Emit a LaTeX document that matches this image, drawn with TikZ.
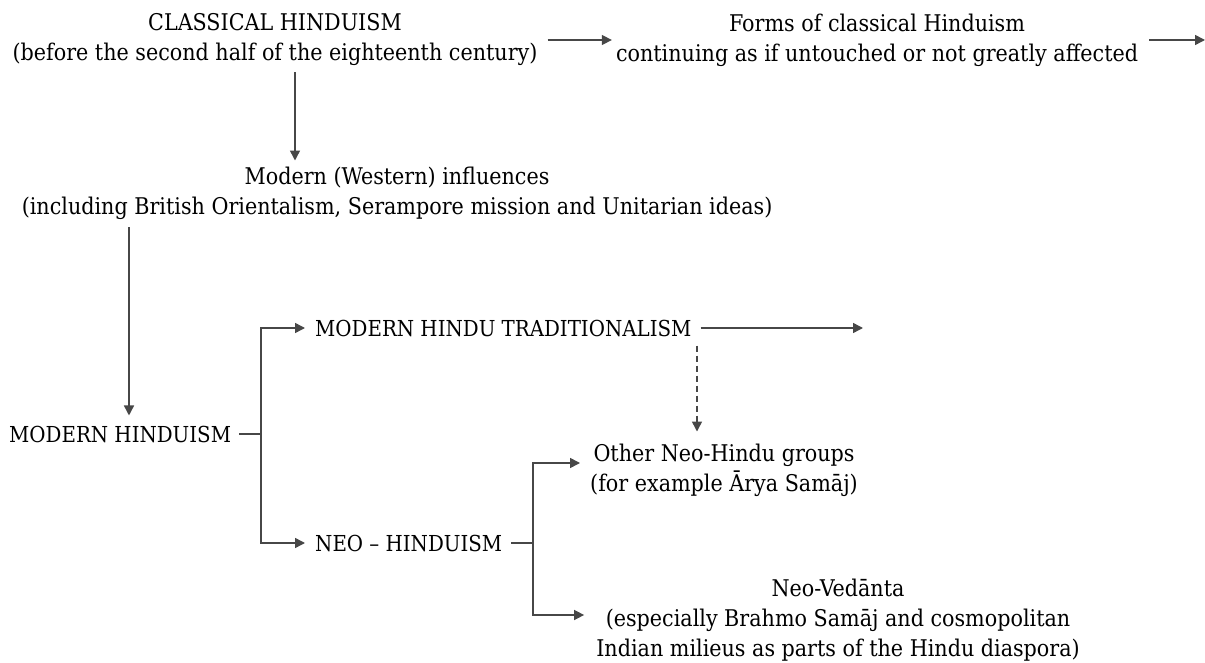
\documentclass[tikz,border=0pt]{standalone}
\usepackage{fontspec}
\setmainfont{DejaVu Serif Condensed}
\usetikzlibrary{arrows.meta}
\begin{document}
\begin{tikzpicture}[x=1pt,y=-1pt,
  txt/.style={inner sep=0pt, font=\fontsize{23}{30}\selectfont, text=black},
  ctr/.style={txt, align=center},
  lft/.style={txt, anchor=west, font=\fontsize{22}{30}\selectfont},
  ln/.style={draw=black!72, line width=1.5pt},
  arr/.style={ln, -{Triangle[length=10pt,width=10pt]}},
]
\useasboundingbox (0,0) rectangle (1205,663);

\node[ctr] (classical) at (275,40) {CLASSICAL HINDUISM\\(before the second half of the eighteenth century)};
\node[ctr] (forms) at (877,40) {Forms of classical Hinduism\\continuing as if untouched or not greatly affected};
\node[ctr] (modern) at (397,193) {Modern (Western) influences\\(including British Orientalism, Serampore mission and Unitarian ideas)};
\node[lft] (mh) at (9,434) {MODERN HINDUISM};
\node[lft] (mht) at (315,328) {MODERN HINDU TRADITIONALISM};
\node[lft] (neo) at (315,543) {NEO -- HINDUISM};
\node[ctr] (other) at (724,470) {Other Neo-Hindu groups\\(for example Ārya Samāj)};
\node[ctr] (nv) at (838,620) {Neo-Vedānta\\(especially Brahmo Samāj and cosmopolitan\\Indian milieus as parts of the Hindu diaspora)};

\coordinate (fe) at (1205,40);
\coordinate (me) at (863,328);
\coordinate (v1) at (295,0);
\coordinate (v2) at (129,0);
\coordinate (d1) at (697,0);
\coordinate (b1) at (261,434);
\coordinate (b2) at (533,543);

\draw[arr, shorten <=10pt, shorten >=4pt] (classical.east) -- (forms.west);
\draw[arr, shorten <=11pt] (forms.east) -- (fe);
\draw[arr, shorten <=6pt, shorten >=6pt] (classical.south -| v1) -- (modern.north -| v1);
\draw[arr, shorten <=8pt, shorten >=10pt] (modern.south -| v2) -- (mh.north -| v2);
\draw[ln] ([xshift=8pt]mh.east) -- (b1);
\draw[arr] (b1) |- ([xshift=-10pt]mht.west);
\draw[arr] (b1) |- ([xshift=-10pt]neo.west);
\draw[arr, shorten <=9pt] (mht.east) -- (me);
\draw[arr, dashed, dash pattern=on 6pt off 4pt, shorten <=9pt, shorten >=12pt] (mht.south -| d1) -- (other.north -| d1);
\draw[ln] ([xshift=9pt]neo.east) -- (b2);
\draw[arr] (b2) |- ([xshift=-10pt,yshift=7pt]other.west);
\draw[arr] (b2) |- ([xshift=-12pt,yshift=5pt]nv.west);
\end{tikzpicture}
\end{document}
